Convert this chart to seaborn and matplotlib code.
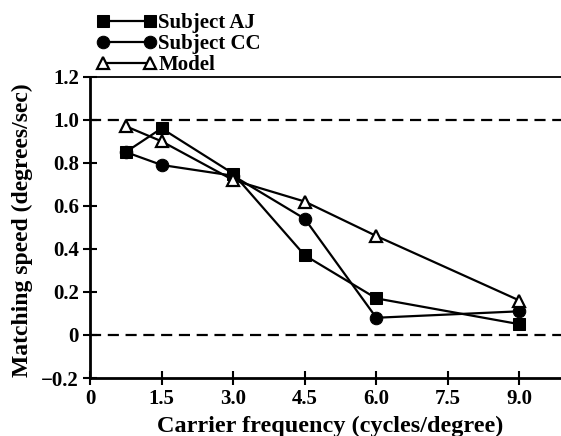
import matplotlib
matplotlib.use("Agg")
import matplotlib.pyplot as plt
import seaborn as sns

# carrier frequency (cycles/degree) and matching speed (degrees/sec)
freq = [0.75, 1.5, 3.0, 4.5, 6.0, 9.0]
subject_aj = [0.85, 0.96, 0.75, 0.37, 0.17, 0.05]
subject_cc = [0.85, 0.79, 0.74, 0.54, 0.08, 0.11]
model = [0.97, 0.90, 0.72, 0.62, 0.46, 0.16]

x_ticks = [0, 1.5, 3.0, 4.5, 6.0, 7.5, 9.0]
x_tick_labels = ["0", "1.5", "3.0", "4.5", "6.0", "7.5", "9.0"]
y_ticks = [-0.2, 0, 0.2, 0.4, 0.6, 0.8, 1.0, 1.2]
y_tick_labels = ["\u22120.2", "0", "0.2", "0.4", "0.6", "0.8", "1.0", "1.2"]

sns.set_theme(style="ticks")
plt.rcParams["font.family"] = ["Liberation Serif", "DejaVu Serif"]
plt.rcParams["font.weight"] = "bold"
plt.rcParams["axes.labelweight"] = "bold"
plt.rcParams["text.color"] = "black"

fig = plt.figure(figsize=(5.61, 4.36), dpi=100)
ax = fig.add_axes([0.1604, 0.133, 0.8396, 0.691])

sns.lineplot(x=freq, y=subject_aj, ax=ax, color="black", linewidth=1.6, marker="s",
             markersize=9, markeredgecolor="black", label="Subject AJ", sort=False)
sns.lineplot(x=freq, y=subject_cc, ax=ax, color="black", linewidth=1.6, marker="o",
             markersize=9, markeredgecolor="black", label="Subject CC", sort=False)
sns.lineplot(x=freq, y=model, ax=ax, color="black", linewidth=1.6, marker="^",
             markersize=9, markerfacecolor="white", markeredgecolor="black",
             markeredgewidth=1.6, label="Model", sort=False)

ax.axhline(1.0, color="black", linestyle=(0, (5, 3)), linewidth=1.6, zorder=1)
ax.axhline(0.0, color="black", linestyle=(0, (5, 3)), linewidth=1.6, zorder=1)

ax.set_xlim(0, 9.87)
ax.set_ylim(-0.2, 1.2)
ax.set_xticks(x_ticks)
ax.set_xticklabels(x_tick_labels)
ax.set_yticks(y_ticks)
ax.set_yticklabels(y_tick_labels)
ax.tick_params(direction="inout", length=10, width=1.5, labelsize=15, colors="black", pad=3)

for s in ["left", "bottom"]:
    ax.spines[s].set_linewidth(2)
    ax.spines[s].set_color("black")
ax.spines["top"].set_linewidth(1.3)
ax.spines["top"].set_color("black")
ax.spines["right"].set_visible(False)

ax.set_xlabel("Carrier frequency (cycles/degree)", fontsize=17.5, color="black")
ax.set_ylabel("Matching speed (degrees/sec)", fontsize=17, color="black")
ax.xaxis.set_label_coords(0.51, -0.125)
ax.yaxis.set_label_coords(-0.121, 0.49)

leg = ax.legend(loc="upper left", bbox_to_anchor=(0.172, 0.97), bbox_transform=fig.transFigure,
                frameon=False, fontsize=15, handlelength=2.86, handletextpad=0.1,
                labelspacing=0.05, borderpad=0, borderaxespad=0, numpoints=2)
for t in leg.get_texts():
    t.set_color("black")

fig.savefig("out.png", dpi=100)
